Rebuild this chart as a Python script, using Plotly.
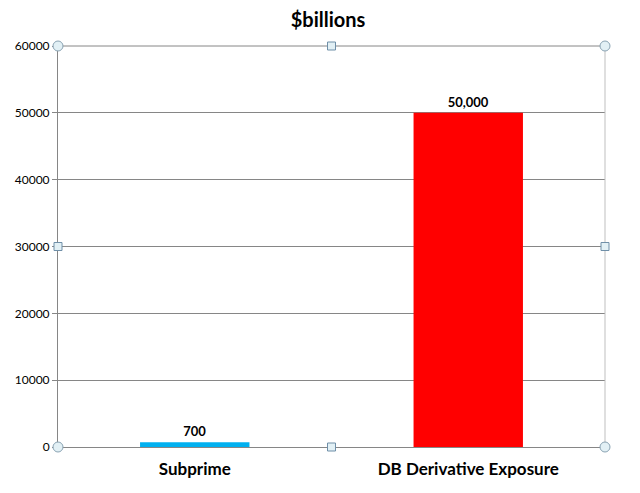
import plotly.graph_objects as go

categories = ["Subprime", "DB Derivative Exposure"]
values = [700, 50000]
bar_colors = ["#00b0f0", "#ff0000"]
y_ticks = [0, 10000, 20000, 30000, 40000, 50000, 60000]

FONT = "Lato, Open Sans, sans-serif"

fig = go.Figure(go.Bar(
    x=categories,
    y=values,
    marker=dict(color=bar_colors, line=dict(width=0)),
    width=0.4,
    text=values,
    texttemplate="<b>%{y:,}</b>",
    textposition="outside",
    textfont=dict(family=FONT, size=13, color="#000000"),
    cliponaxis=False,
))

fig.update_layout(
    width=640, height=493,
    margin=dict(l=50, r=43, t=38, b=54, autoexpand=False),
    paper_bgcolor="white", plot_bgcolor="white",
    showlegend=False,
    title=dict(text="<b>$billions</b>", x=0.5, xanchor="center", y=0.975, yanchor="middle",
               font=dict(family=FONT, size=20, color="#000000")),
    font=dict(family=FONT, color="#000000"),
)

fig.update_xaxes(
    automargin=False,
    showgrid=False, showline=True, linecolor="#868686", linewidth=1,
    tickfont=dict(family=FONT, size=17, color="#000000"),
    tickprefix="<b>", ticksuffix="</b>",
    ticks="", ticklabelstandoff=7,
)
fig.update_yaxes(
    automargin=False,
    range=[0, 60000], tickvals=y_ticks, tickformat="d",
    showgrid=True, gridcolor="#868686", gridwidth=1,
    showline=True, linecolor="#868686", linewidth=1,
    ticks="outside", ticklen=5, tickcolor="#868686",
    tickfont=dict(family=FONT, size=12, color="#000000"),
    tickprefix="<b>", ticksuffix="</b>",
    zeroline=False,
)

# top gridline and right border of the plot area
fig.add_shape(type="line", xref="paper", yref="paper", x0=0, x1=1, y0=1, y1=1,
              line=dict(color="#868686", width=1))
fig.add_shape(type="line", xref="paper", yref="paper", x0=1, x1=1, y0=0, y1=1,
              line=dict(color="#bfbfbf", width=1))

# chart selection handles
hx, hy = 5 / 547, 5 / 401
for px, py in [(0, 0), (1, 0), (0, 1), (1, 1)]:
    fig.add_shape(type="circle", xref="paper", yref="paper",
                  x0=px - hx, x1=px + hx, y0=py - hy, y1=py + hy,
                  fillcolor="#e2f0f5", line=dict(color="#8aa3b3", width=1))
sx, sy = 4 / 547, 4 / 401
for px, py in [(0.5, 0), (0.5, 1), (0, 0.5), (1, 0.5)]:
    fig.add_shape(type="rect", xref="paper", yref="paper",
                  x0=px - sx, x1=px + sx, y0=py - sy, y1=py + sy,
                  fillcolor="#e2f0f5", line=dict(color="#6f8fa8", width=1))

fig.write_html("out.html")
